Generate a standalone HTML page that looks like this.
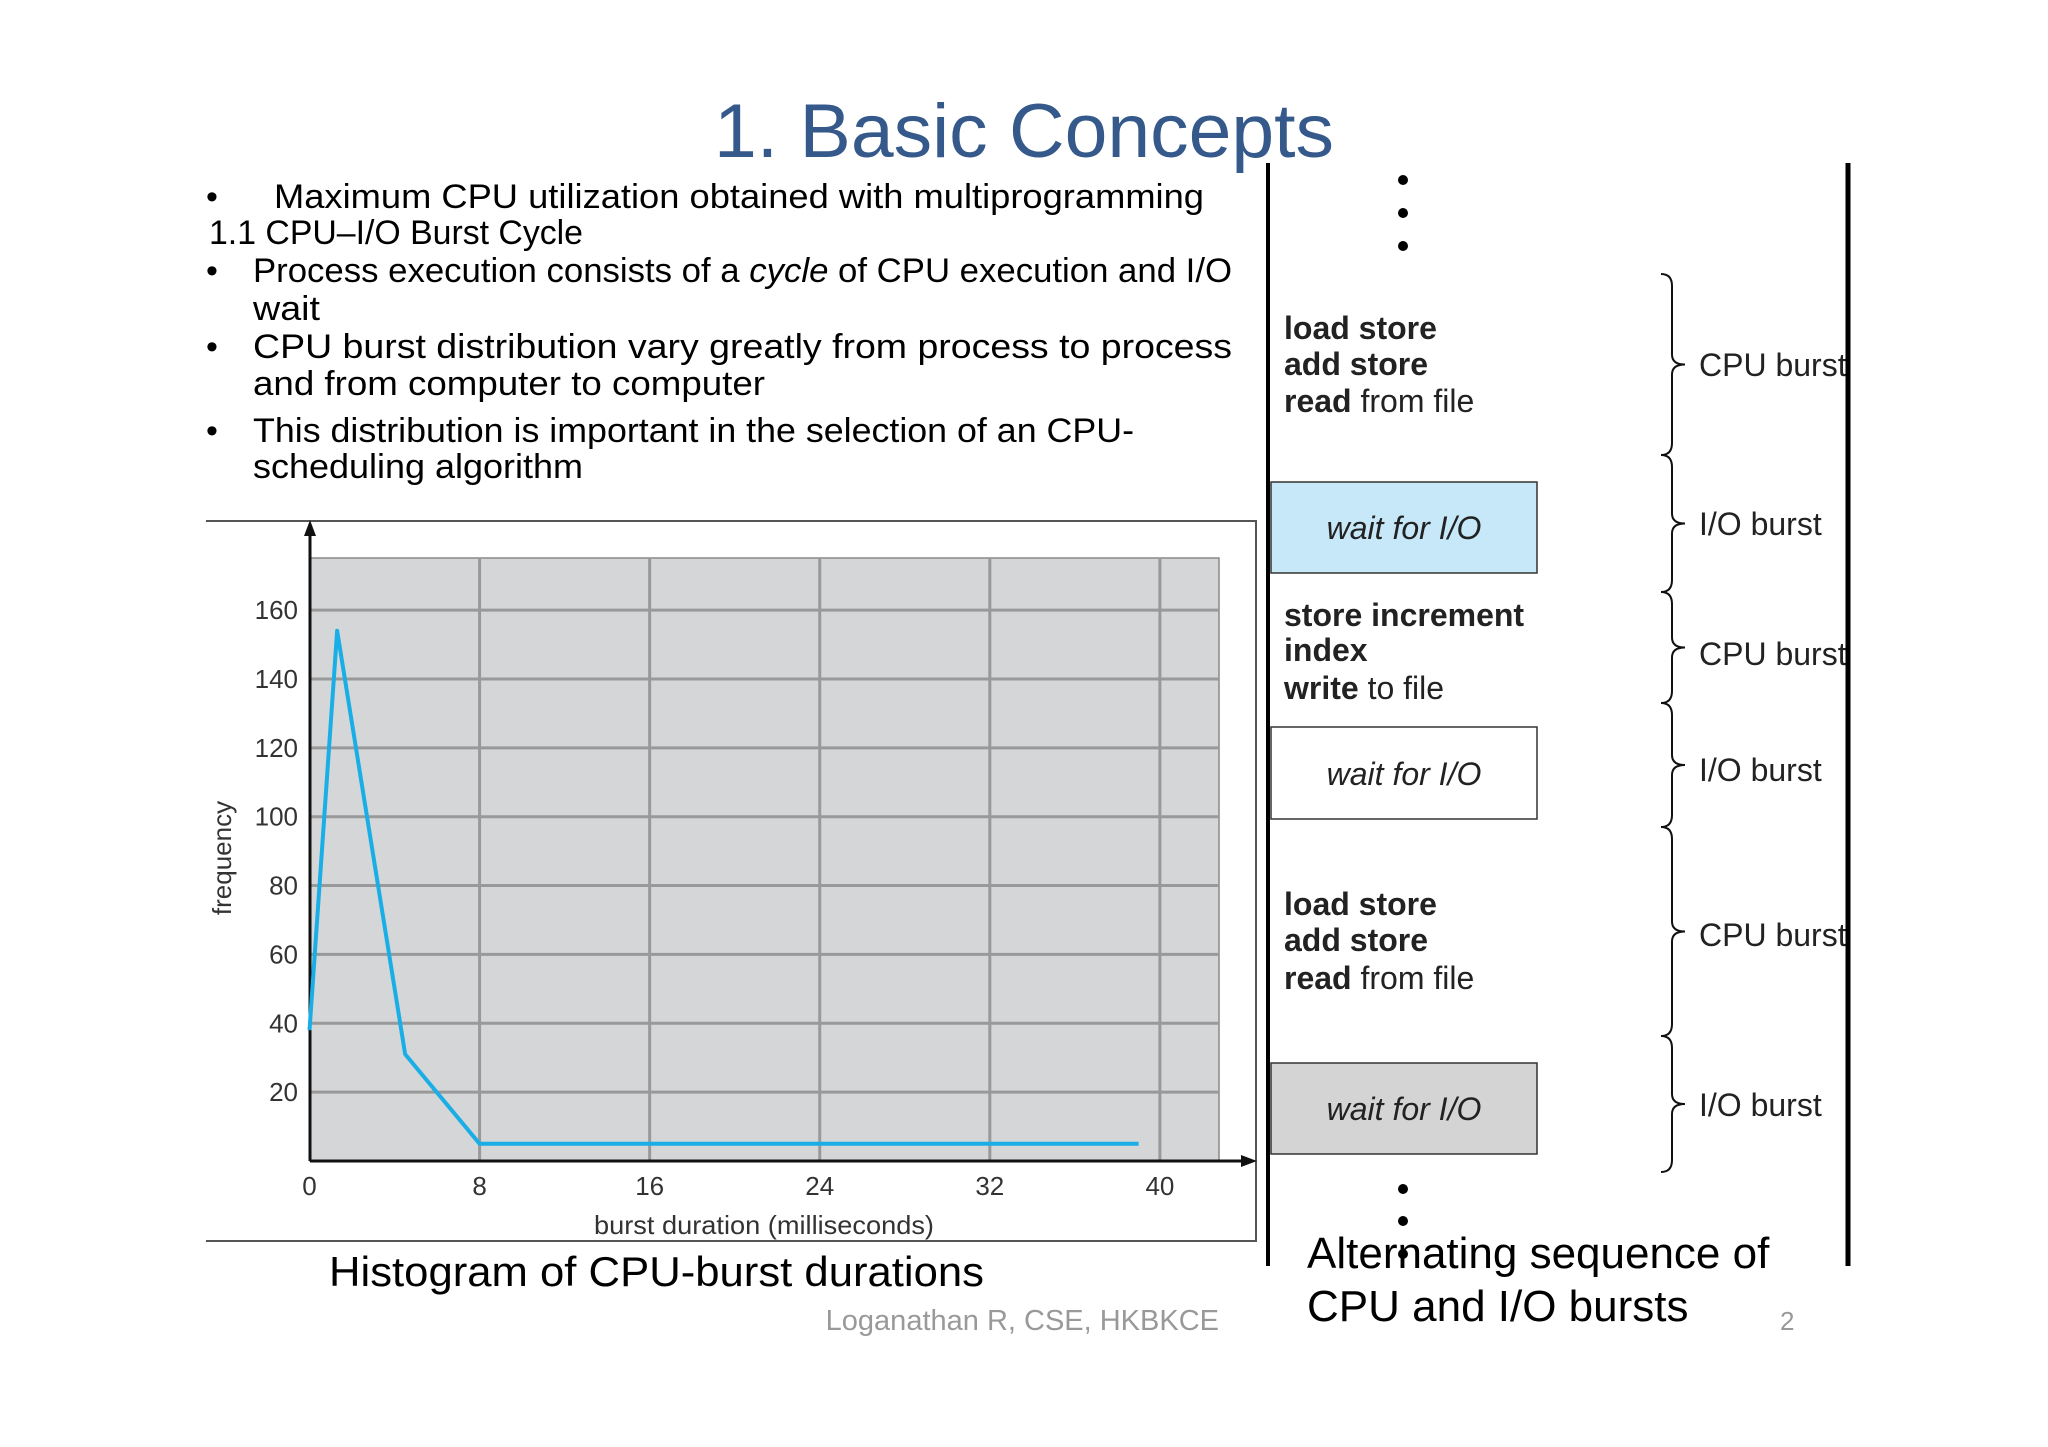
<!DOCTYPE html>
<html><head><meta charset="utf-8"><style>
html,body{margin:0;padding:0;background:#fff;}
svg{display:block;}
text{font-family:"Liberation Sans",sans-serif;}
</style></head><body>
<svg id="s" width="2048" height="1447" viewBox="0 0 2048 1447" xmlns="http://www.w3.org/2000/svg">
<text x="714" y="157" font-size="76" fill="#34598a" textLength="620" lengthAdjust="spacingAndGlyphs">1. Basic Concepts</text>
<g font-size="34" fill="#000">
<text x="206" y="208">•</text>
<text x="274" y="208" textLength="930" lengthAdjust="spacingAndGlyphs">Maximum CPU utilization obtained with multiprogramming</text>
<text x="209" y="244" textLength="374" lengthAdjust="spacingAndGlyphs">1.1 CPU–I/O Burst Cycle</text>
<text x="206" y="282">•</text>
<text x="253" y="282" textLength="979" lengthAdjust="spacingAndGlyphs">Process execution consists of a <tspan font-style="italic">cycle</tspan> of CPU execution and I/O</text>
<text x="253" y="320" textLength="67" lengthAdjust="spacingAndGlyphs">wait</text>
<text x="206" y="358">•</text>
<text x="253" y="358" textLength="979" lengthAdjust="spacingAndGlyphs">CPU burst distribution vary greatly from process to process</text>
<text x="253" y="395" textLength="512" lengthAdjust="spacingAndGlyphs">and from computer to computer</text>
<text x="206" y="442">•</text>
<text x="253" y="442" textLength="881" lengthAdjust="spacingAndGlyphs">This distribution is important in the selection of an CPU-</text>
<text x="253" y="478" textLength="330" lengthAdjust="spacingAndGlyphs">scheduling algorithm</text>
</g>
<g id="chart"></g>
<text x="329" y="1286" font-size="42" textLength="655" lengthAdjust="spacingAndGlyphs">Histogram of CPU-burst durations</text>
<text x="1219" y="1330" font-size="29" fill="#999" text-anchor="end">Loganathan R, CSE, HKBKCE</text>
<text x="1780" y="1330" font-size="26" fill="#999">2</text>

<g>
<g font-size="32" fill="#222">
<text x="1699" y="376">CPU burst</text>
<text x="1699" y="535">I/O burst</text>
<text x="1699" y="665">CPU burst</text>
<text x="1699" y="781">I/O burst</text>
<text x="1699" y="946">CPU burst</text>
<text x="1699" y="1116">I/O burst</text>
</g>
<rect x="1850" y="300" width="40" height="700" fill="#fff"/>
<line x1="1268" y1="163" x2="1268" y2="1266" stroke="#000" stroke-width="4"/>
<line x1="1848" y1="163" x2="1848" y2="1266" stroke="#000" stroke-width="5"/>
<g fill="#000">
<circle cx="1403" cy="180" r="5"/><circle cx="1403" cy="213" r="5"/><circle cx="1403" cy="246" r="5"/></g>
<g fill="#000">
<circle cx="1403" cy="1189" r="5"/><circle cx="1403" cy="1221" r="5"/><circle cx="1403" cy="1254" r="5"/></g>
<g font-size="32" fill="#222">
<text x="1284" y="339" font-weight="bold">load store</text>
<text x="1284" y="375" font-weight="bold">add store</text>
<text x="1284" y="412"><tspan font-weight="bold">read</tspan> from file</text>
<text x="1284" y="626" font-weight="bold">store increment</text>
<text x="1284" y="661" font-weight="bold">index</text>
<text x="1284" y="699"><tspan font-weight="bold">write</tspan> to file</text>
<text x="1284" y="915" font-weight="bold">load store</text>
<text x="1284" y="951" font-weight="bold">add store</text>
<text x="1284" y="989"><tspan font-weight="bold">read</tspan> from file</text>
</g>
<rect x="1271" y="482" width="266" height="91" fill="#c6e8f8" stroke="#333" stroke-width="1.5"/>
<text x="1404" y="539" font-size="32" font-style="italic" fill="#222" text-anchor="middle">wait for I/O</text>
<rect x="1271" y="727" width="266" height="92" fill="#fff" stroke="#333" stroke-width="1.5"/>
<text x="1404" y="785" font-size="32" font-style="italic" fill="#222" text-anchor="middle">wait for I/O</text>
<rect x="1271" y="1063" width="266" height="91" fill="#d4d4d4" stroke="#333" stroke-width="1.5"/>
<text x="1404" y="1120" font-size="32" font-style="italic" fill="#222" text-anchor="middle">wait for I/O</text>
<g id="braces" fill="none" stroke="#111" stroke-width="2"></g>
<text x="1307" y="1268" font-size="44" fill="#000">Alternating sequence of</text>
<text x="1307" y="1321" font-size="44" fill="#000">CPU and I/O bursts</text>
</g>
</svg>
<script>
const xTicks=[0,8,16,24,32,40];
const yTicks=[20,40,60,80,100,120,140,160];
const burstX=[0,1.3,4.5,8,39];
const freqY=[38,154,31,5,5];
const NS="http://www.w3.org/2000/svg";
const X0=309.5,XS=21.26,Y0=1161,YS=3.443;
const sx=v=>X0+v*XS, sy=v=>Y0-v*YS;
const g=document.getElementById('chart');
function mk(tag,attrs,parent){const e=document.createElementNS(NS,tag);for(const k in attrs)e.setAttribute(k,attrs[k]);(parent||g).appendChild(e);return e;}
let e;
e=mk('path',{d:'M206 521 H1256 V1241 H206',fill:'none',stroke:'#555','stroke-width':2});


e=mk('rect',{x:310,y:558,width:909,height:603,fill:'#d5d6d8',stroke:'#888','stroke-width':1.5});


xTicks.forEach(t=>{if(t===0)return;
e=mk('line',{x1:sx(t),x2:sx(t),y1:558,y2:Y0,stroke:'#999','stroke-width':3});

});
yTicks.forEach(t=>{
e=mk('line',{x1:310,x2:1219,y1:sy(t),y2:sy(t),stroke:'#999','stroke-width':3});


e=mk('text',{x:298,y:sy(t)+9,'font-size':26,fill:'#333','text-anchor':'end'});e.textContent=t;

});
xTicks.forEach(t=>{
e=mk('text',{x:sx(t),y:1195,'font-size':26,fill:'#333','text-anchor':'middle'});e.textContent=t;

});
e=mk('line',{x1:310,y1:1161,x2:310,y2:528,stroke:'#111','stroke-width':3});


e=mk('path',{d:'M310 520 L304 536 L316 536 Z',fill:'#111'});


e=mk('line',{x1:310,y1:1161,x2:1248,y2:1161,stroke:'#111','stroke-width':3});


e=mk('path',{d:'M1257 1161 L1241 1155 L1241 1167 Z',fill:'#111'});


e=mk('polyline',{points:burstX.map((x,i)=>sx(x)+','+sy(freqY[i])).join(' '),fill:'none',stroke:'#1aaee6','stroke-width':4,'stroke-linejoin':'round'});


e=mk('text',{x:0,y:0,'font-size':26,fill:'#333','text-anchor':'middle',transform:'translate(231 858) rotate(-90)'});e.textContent='frequency';


e=mk('text',{x:764,y:1234,'font-size':26,fill:'#333','text-anchor':'middle',textLength:340,lengthAdjust:'spacingAndGlyphs'});e.textContent='burst duration (milliseconds)';


const br=document.getElementById('braces');
[[274,455],[455,592],[592,703],[703,827],[827,1036],[1036,1172]].forEach(([a,b])=>{
const m=(a+b)/2,x=1672;
const p=mk('path',{d:`M1661 ${a} Q${x} ${a} ${x} ${a+12} V${m-10} Q${x} ${m} 1685 ${m} Q${x} ${m} ${x} ${m+10} V${b-12} Q${x} ${b} 1661 ${b}`},br);


});
</script>
</body></html>
